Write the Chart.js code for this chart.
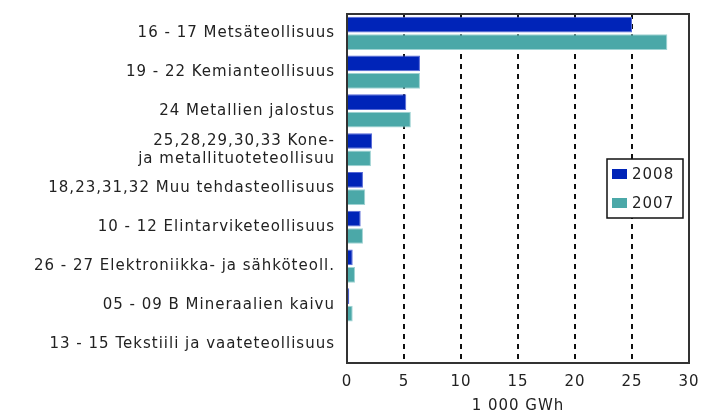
<!DOCTYPE html>
<html>
<head>
<meta charset="utf-8">
<script src="https://cdn.jsdelivr.net/npm/chart.js@4"></script>
<style>
  html, body { margin: 0; padding: 0; background: #fff; }
  #wrap { width: 701px; height: 419px; }
</style>
</head>
<body>
<div id="wrap"><canvas id="chart"></canvas></div>
<script>
const categories = [
  "16 - 17 Metsäteollisuus",
  "19 - 22 Kemianteollisuus",
  "24 Metallien jalostus",
  ["25,28,29,30,33 Kone-", "ja metallituoteteollisuu"],
  "18,23,31,32 Muu tehdasteollisuus",
  "10 - 12 Elintarviketeollisuus",
  "26 - 27 Elektroniikka- ja sähköteoll.",
  "05 - 09 B Mineraalien kaivu",
  "13 - 15 Tekstiili ja vaateteollisuus"
];
const values2008 = [25.0, 6.4, 5.2, 2.2, 1.4, 1.2, 0.5, 0.2, 0.05];
const values2007 = [28.1, 6.4, 5.6, 2.1, 1.6, 1.4, 0.7, 0.5, 0.05];
const xTicks = [0, 5, 10, 15, 20, 25, 30];

const FONT = "'DejaVu Sans', sans-serif";

// the reference text is rather wide, so space the letters a little
const spacingPlugin = {
  id: "spacing",
  beforeDraw(chart) { chart.ctx.letterSpacing = "1px"; }
};

// plot frame + legend box inside the plot
const framePlugin = {
  id: "frame",
  afterDraw(chart) {
    const { ctx, chartArea: a } = chart;
    ctx.save();
    ctx.strokeStyle = "#333";
    ctx.lineWidth = 2;
    ctx.strokeRect(a.left, a.top, a.right - a.left, a.bottom - a.top);

    const bx = a.right - 82, by = 159, bw = 76, bh = 59;
    ctx.fillStyle = "#fff";
    ctx.fillRect(bx, by, bw, bh);
    ctx.lineWidth = 1.5;
    ctx.strokeStyle = "#111";
    ctx.strokeRect(bx, by, bw, bh);
    ctx.font = "15px " + FONT;
    ctx.textBaseline = "middle";
    chart.data.datasets.forEach((ds, i) => {
      const y = by + 15 + i * 29;
      ctx.fillStyle = ds.backgroundColor;
      ctx.fillRect(bx + 5, y - 5, 15, 10);
      ctx.fillStyle = "#222";
      ctx.fillText(ds.label, bx + 25, y + 1);
    });
    ctx.restore();
  }
};

new Chart(document.getElementById("chart"), {
  type: "bar",
  data: {
    labels: categories,
    datasets: [
      { label: "2008", data: values2008, backgroundColor: "#0024b8", borderColor: "#5567d6", borderWidth: 1, borderSkipped: "left" },
      { label: "2007", data: values2007, backgroundColor: "#4ba8a8", borderColor: "#9fd3d3", borderWidth: 1, borderSkipped: "left" }
    ]
  },
  options: {
    indexAxis: "y",
    responsive: true,
    maintainAspectRatio: false,
    animation: false,
    layout: { padding: { top: 14, right: 12, left: 0, bottom: 0 } },
    categoryPercentage: 0.9,
    barPercentage: 0.9,
    plugins: {
      legend: { display: false },
      tooltip: { enabled: false }
    },
    scales: {
      x: {
        min: 0,
        max: 30,
        afterBuildTicks(scale) { scale.ticks = xTicks.map(v => ({ value: v })); },
        afterFit(scale) {
          scale.height = 56;
          scale.paddingLeft = 0;
          scale.paddingRight = 0;
        },
        border: { display: false, dash: [5, 5] },
        grid: {
          drawTicks: false,
          color: c => (c.tick && c.tick.value > 0 && c.tick.value < 30) ? "#111" : "rgba(0,0,0,0)",
          lineWidth: 2
        },
        ticks: { padding: 10, color: "#222", font: { family: FONT, size: 15 } },
        title: { display: true, text: "1 000 GWh", color: "#222", padding: { top: 5 }, font: { family: FONT, size: 15 } }
      },
      y: {
        afterFit(scale) {
          scale.width = 347;
          scale.paddingTop = 0;
          scale.paddingBottom = 0;
        },
        border: { display: false },
        grid: { display: false, drawTicks: false },
        ticks: { autoSkip: false, padding: 12, color: "#222", font: { family: FONT, size: 15 } }
      }
    }
  },
  plugins: [spacingPlugin, framePlugin]
});
</script>
</body>
</html>
